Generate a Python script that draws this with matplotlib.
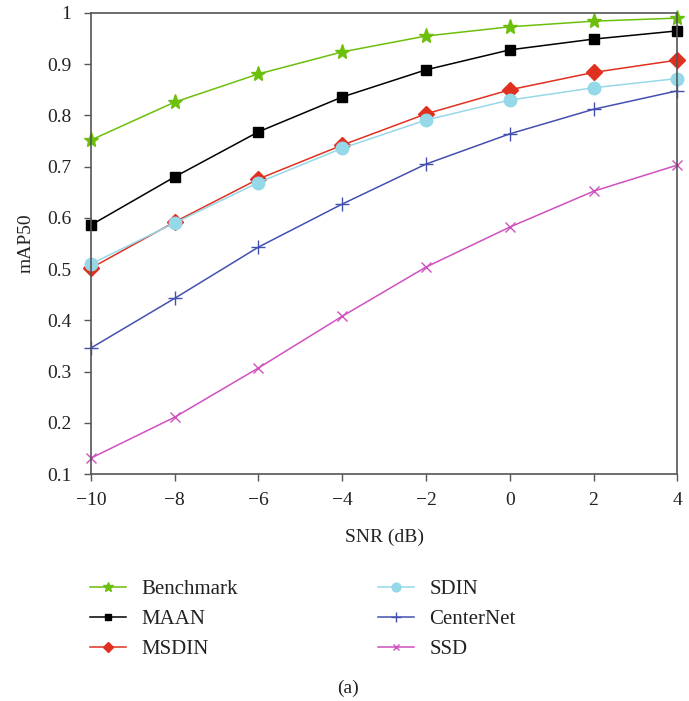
import matplotlib.pyplot as plt
import numpy as np

plt.rcParams['font.family'] = ['Liberation Serif', 'DejaVu Serif']
plt.rcParams['axes.unicode_minus'] = True

snr = [-10, -8, -6, -4, -2, 0, 2, 4]

benchmark = [0.752, 0.826, 0.881, 0.924, 0.955, 0.973, 0.984, 0.990]
maan = [0.586, 0.680, 0.768, 0.836, 0.889, 0.928, 0.949, 0.965]
msdin = [0.502, 0.592, 0.676, 0.742, 0.803, 0.850, 0.884, 0.908]
sdin = [0.510, 0.590, 0.669, 0.736, 0.791, 0.830, 0.854, 0.872]
centernet = [0.346, 0.443, 0.543, 0.627, 0.705, 0.764, 0.812, 0.848]
ssd = [0.131, 0.211, 0.307, 0.408, 0.504, 0.582, 0.652, 0.703]

series = [
    ("Benchmark", benchmark, "#6cbf0a", "*", 11),
    ("MAAN", maan, "black", "s", 7),
    ("MSDIN", msdin, "#e03020", "D", 8),
    ("SDIN", sdin, "#95d8e8", "o", 9),
    ("CenterNet", centernet, "#4450b0", "+", 10),
    ("SSD", ssd, "#d050c0", "x", 7),
]

fig = plt.figure(figsize=(6.89, 7.01), dpi=100)
ax = fig.add_axes([0.132, 0.3238, 0.851, 0.6577])

for name, vals, color, marker, ms in series:
    ax.plot(snr, vals, color=color, marker=marker, markersize=ms,
            linewidth=1.1, label=name, clip_on=False)

ax.set_xlim(-10, 4)
ax.set_ylim(0.1, 1.0)
ax.set_xticks(np.arange(-10, 5, 2))
ax.set_yticks(np.arange(0.1, 1.01, 0.1))
ax.set_yticklabels(["0.1", "0.2", "0.3", "0.4", "0.5", "0.6", "0.7", "0.8", "0.9", "1"])
ax.tick_params(labelsize=14, direction='out', length=5, width=1, color='#555555',
               labelcolor='#222222')
ax.tick_params(axis='y', pad=9)
ax.tick_params(axis='x', pad=8)
for s in ax.spines.values():
    s.set_color('#555555')
    s.set_linewidth(1.2)

ax.set_xlabel("SNR (dB)", fontsize=14, labelpad=14, color='#222222')
ax.set_ylabel("mAP50", fontsize=14, labelpad=9, color='#222222')

handles, labels = ax.get_legend_handles_labels()
fig.legend(handles, labels, loc='upper left', bbox_to_anchor=(0.131, 0.1735),
           ncol=2, frameon=False, fontsize=15, handlelength=1.7, handletextpad=0.75,
           columnspacing=6.75, labelspacing=0.5, markerscale=0.7,
           borderpad=0, borderaxespad=0, labelcolor='#222222')

fig.text(0.505, 0.0185, "(a)", ha='center', va='center', fontsize=14, color='#222222')

fig.savefig("out.png", dpi=100)
